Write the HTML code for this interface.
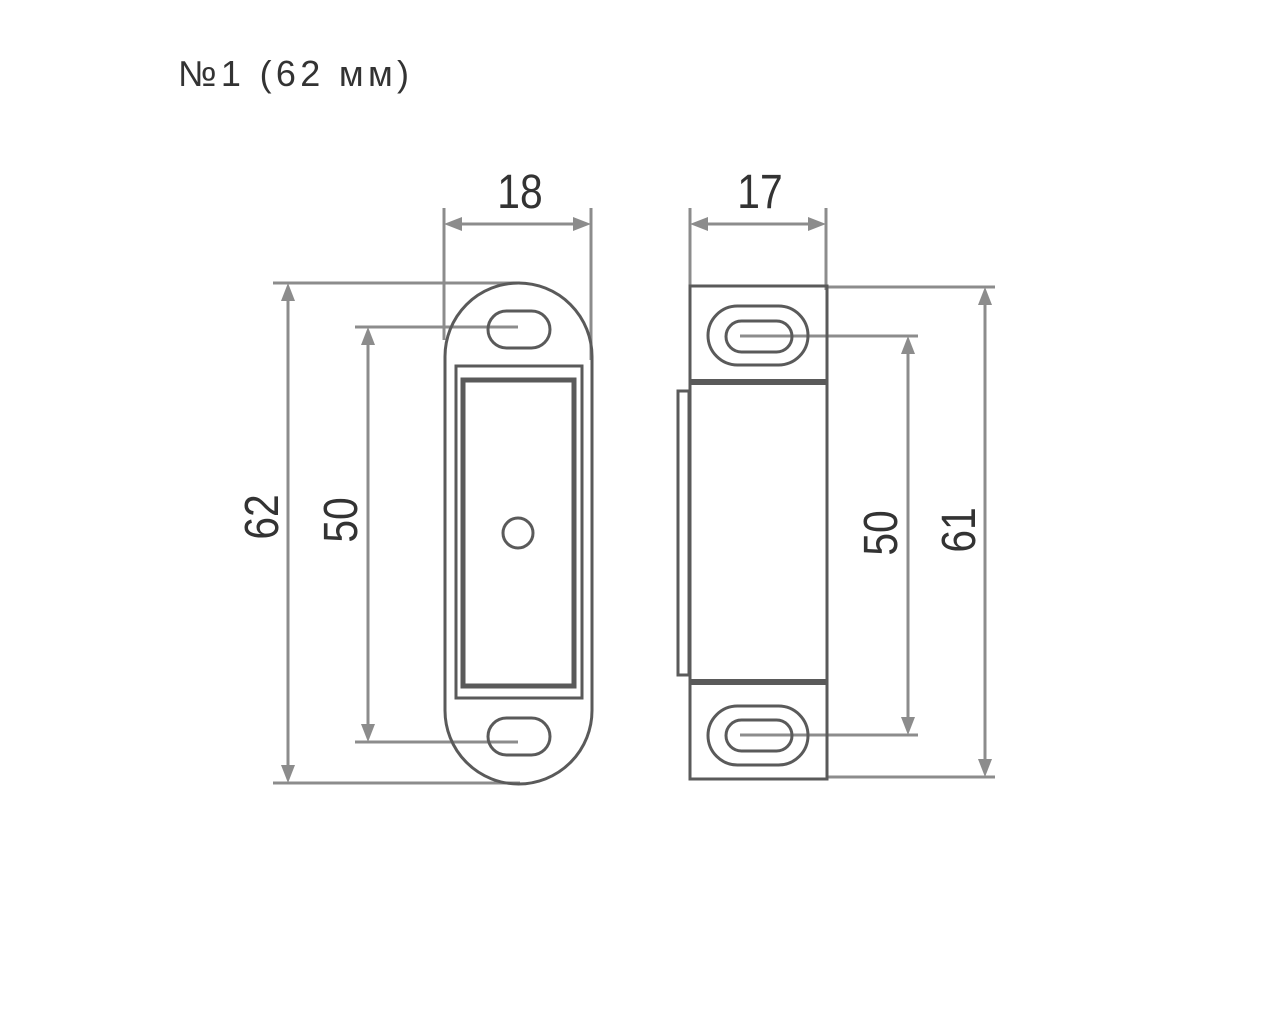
<!DOCTYPE html>
<html><head><meta charset="utf-8"><style>
html,body{margin:0;padding:0;background:#fff;}
</style></head><body>
<svg width="1280" height="1024" xmlns="http://www.w3.org/2000/svg" font-family="Liberation Sans, DejaVu Sans, sans-serif">
<rect width="1280" height="1024" fill="#fff"/>
<text x="178" y="86" font-size="36" fill="#333" letter-spacing="3" textLength="234" lengthAdjust="spacing">№1 (62 мм)</text>
<g stroke="#8c8c8c" stroke-width="3" fill="none">
<line x1="444" y1="208" x2="444" y2="340"/>
<line x1="591" y1="208" x2="591" y2="360"/>
<line x1="273" y1="283" x2="520" y2="283"/>
<line x1="355" y1="327" x2="518" y2="327"/>
<line x1="355" y1="742" x2="518" y2="742"/>
<line x1="273" y1="783" x2="520" y2="783"/>
<line x1="455" y1="224" x2="580" y2="224"/>
<line x1="288" y1="294" x2="288" y2="772"/>
<line x1="368" y1="338" x2="368" y2="731"/>
<line x1="690" y1="208" x2="690" y2="290"/>
<line x1="826" y1="208" x2="826" y2="290"/>
<line x1="701" y1="224" x2="815" y2="224"/>
<line x1="740" y1="336" x2="918" y2="336"/>
<line x1="740" y1="735" x2="918" y2="735"/>
<line x1="828" y1="287" x2="995" y2="287"/>
<line x1="828" y1="777" x2="995" y2="777"/>
<line x1="908" y1="347" x2="908" y2="724"/>
<line x1="985" y1="298" x2="985" y2="766"/>
</g>
<g fill="#8c8c8c">
<polygon points="444,224 462,217 462,231"/><polygon points="591,224 573,217 573,231"/>
<polygon points="690,224 708,217 708,231"/><polygon points="826,224 808,217 808,231"/>
<polygon points="288,283 281,301 295,301"/><polygon points="288,783 281,765 295,765"/>
<polygon points="368,327 361,345 375,345"/><polygon points="368,742 361,724 375,724"/>
<polygon points="908,336 901,354 915,354"/><polygon points="908,735 901,717 915,717"/>
<polygon points="985,287 978,305 992,305"/><polygon points="985,777 978,759 992,759"/>
</g>
<g stroke="#5a5a5a" stroke-width="3" fill="none">
<rect x="445" y="283" width="147" height="501" rx="73.5" ry="73.5"/>
<rect x="488" y="311" width="62" height="37" rx="18.5"/>
<rect x="488" y="718" width="62" height="37" rx="18.5"/>
<rect x="456" y="366" width="126" height="332"/>
<rect x="463" y="380" width="111" height="306" stroke-width="5"/>
<circle cx="518" cy="533" r="15"/>
<rect x="690" y="286" width="137" height="493"/>
<rect x="678" y="391" width="11" height="284"/>
<rect x="708" y="306" width="100" height="59" rx="29.5"/>
<rect x="726" y="321" width="66" height="31" rx="15.5"/>
<rect x="708" y="706" width="100" height="59" rx="29.5"/>
<rect x="726" y="720" width="66" height="31" rx="15.5"/>
</g>
<line x1="690" y1="382" x2="827" y2="382" stroke="#5a5a5a" stroke-width="6"/>
<line x1="690" y1="682" x2="827" y2="682" stroke="#5a5a5a" stroke-width="6"/>
<line x1="740" y1="336" x2="790" y2="336" stroke="#8c8c8c" stroke-width="3"/>
<line x1="740" y1="735" x2="790" y2="735" stroke="#8c8c8c" stroke-width="3"/>
<g font-size="48" fill="#333" text-anchor="middle">
<text x="520" y="208" transform="translate(520,0) scale(0.85,1) translate(-520,0)">18</text>
<text x="760" y="208" transform="translate(760,0) scale(0.85,1) translate(-760,0)">17</text>
<text transform="translate(278,517) rotate(-90) scale(0.85,1)">62</text>
<text transform="translate(357,520) rotate(-90) scale(0.85,1)">50</text>
<text transform="translate(897,533) rotate(-90) scale(0.85,1)">50</text>
<text transform="translate(975,530) rotate(-90) scale(0.85,1)">61</text>
</g>
</svg>
</body></html>
